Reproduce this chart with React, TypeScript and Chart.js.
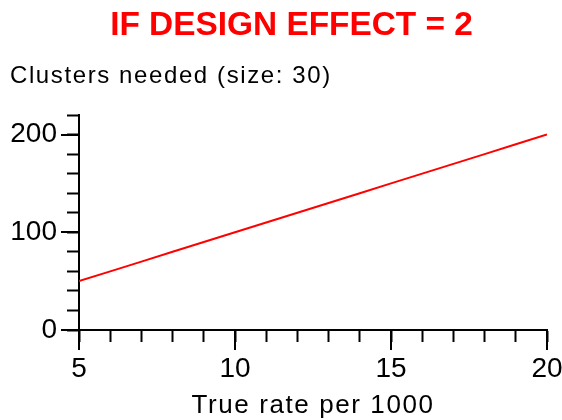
import React, { useEffect, useRef } from "react";
import { Chart, registerables } from "chart.js";

Chart.register(...registerables);

const titleText = "IF DESIGN EFFECT = 2";
const yLabelText = "Clusters needed (size: 30)";
const xLabelText = "True rate per 1000";

const rates = [5, 6, 7, 8, 9, 10, 11, 12, 13, 14, 15, 16, 17, 18, 19, 20];
const clustersNeeded = [50, 60, 70, 80, 90, 100, 110, 120, 130, 140, 150, 160, 170, 180, 190, 200];

const xMajorTicks = [5, 10, 15, 20];
const yMajorTicks = [0, 100, 200];

const FONT = "'Liberation Sans', Arial, sans-serif";

const textPlugin = {
  id: "customText",
  afterDraw(chart: any) {
    const ctx = chart.ctx as CanvasRenderingContext2D;
    const area = chart.chartArea;
    const xs = chart.scales.x;
    const ys = chart.scales.y;
    ctx.save();
    // major ticks (longer)
    ctx.strokeStyle = "#000";
    ctx.lineWidth = 2;
    ctx.beginPath();
    for (const v of yMajorTicks) {
      const py = Math.round(ys.getPixelForValue(v));
      ctx.moveTo(Math.round(area.left) - 18, py);
      ctx.lineTo(Math.round(area.left), py);
    }
    for (const v of xMajorTicks) {
      const px = Math.round(xs.getPixelForValue(v));
      ctx.moveTo(px, Math.round(area.bottom));
      ctx.lineTo(px, Math.round(area.bottom) + 20);
    }
    ctx.stroke();

    // title
    ctx.fillStyle = "#ff0000";
    ctx.font = `bold 33.4px ${FONT}`;
    ctx.textAlign = "center";
    ctx.textBaseline = "alphabetic";
    ctx.fillText(titleText, 291.5, 35);

    // y label
    (ctx as any).letterSpacing = "1.6px";
    ctx.fillStyle = "#000";
    ctx.font = `24px ${FONT}`;
    ctx.textAlign = "left";
    ctx.fillText(yLabelText, 10, 83);

    // x label
    ctx.font = `26px ${FONT}`;
    ctx.textAlign = "center";
    ctx.fillText(xLabelText, (area.left + area.right) / 2, 413);
    (ctx as any).letterSpacing = "0px";
    ctx.restore();
  },
};

export default function App() {
  const canvasRef = useRef<HTMLCanvasElement | null>(null);

  useEffect(() => {
    if (!canvasRef.current) return;
    const chart = new Chart(canvasRef.current, {
      type: "line",
      data: {
        datasets: [
          {
            data: rates.map((r, i) => ({ x: r, y: clustersNeeded[i] })),
            borderColor: "#ff0000",
            borderWidth: 2,
            pointRadius: 0,
            tension: 0,
            fill: false,
          },
        ],
      },
      options: {
        animation: false,
        responsive: false,
        events: [],
        layout: { padding: { left: 0, top: 115, right: 15, bottom: 0 } },
        plugins: {
          legend: { display: false },
          title: { display: false },
          tooltip: { enabled: false },
        },
        scales: {
          x: {
            type: "linear",
            min: 5,
            max: 20,
            afterFit: (scale: any) => {
              scale.height = 90;
              scale.paddingLeft = 0;
              scale.paddingRight = 0;
            },
            ticks: {
              stepSize: 1,
              autoSkip: false,
              maxRotation: 0,
              padding: 10,
              color: "#000",
              font: { family: FONT, size: 28 },
              callback: (v: any) => (xMajorTicks.includes(Number(v)) ? String(v) : ""),
            },
            grid: {
              drawOnChartArea: false,
              tickLength: 12,
              tickWidth: 2,
              tickColor: "#000",
            },
            border: { display: true, color: "#000", width: 2 },
          },
          y: {
            type: "linear",
            min: 0,
            max: 220,
            afterFit: (scale: any) => {
              scale.width = 79;
              scale.paddingTop = 0;
              scale.paddingBottom = 0;
            },
            ticks: {
              stepSize: 20,
              autoSkip: false,
              padding: 10,
              color: "#000",
              font: { family: FONT, size: 28 },
              callback: (v: any) => (yMajorTicks.includes(Number(v)) ? String(v) : ""),
            },
            grid: {
              drawOnChartArea: false,
              tickLength: 12,
              tickWidth: 2,
              tickColor: "#000",
            },
            border: { display: true, color: "#000", width: 2 },
          },
        },
      },
      plugins: [textPlugin],
    });
    return () => chart.destroy();
  }, []);

  return (
    <div style={{ position: "absolute", left: 0, top: 0, width: 562, height: 420, background: "#fff" }}>
      <canvas ref={canvasRef} width={562} height={420} style={{ width: 562, height: 420 }} />
    </div>
  );
}
